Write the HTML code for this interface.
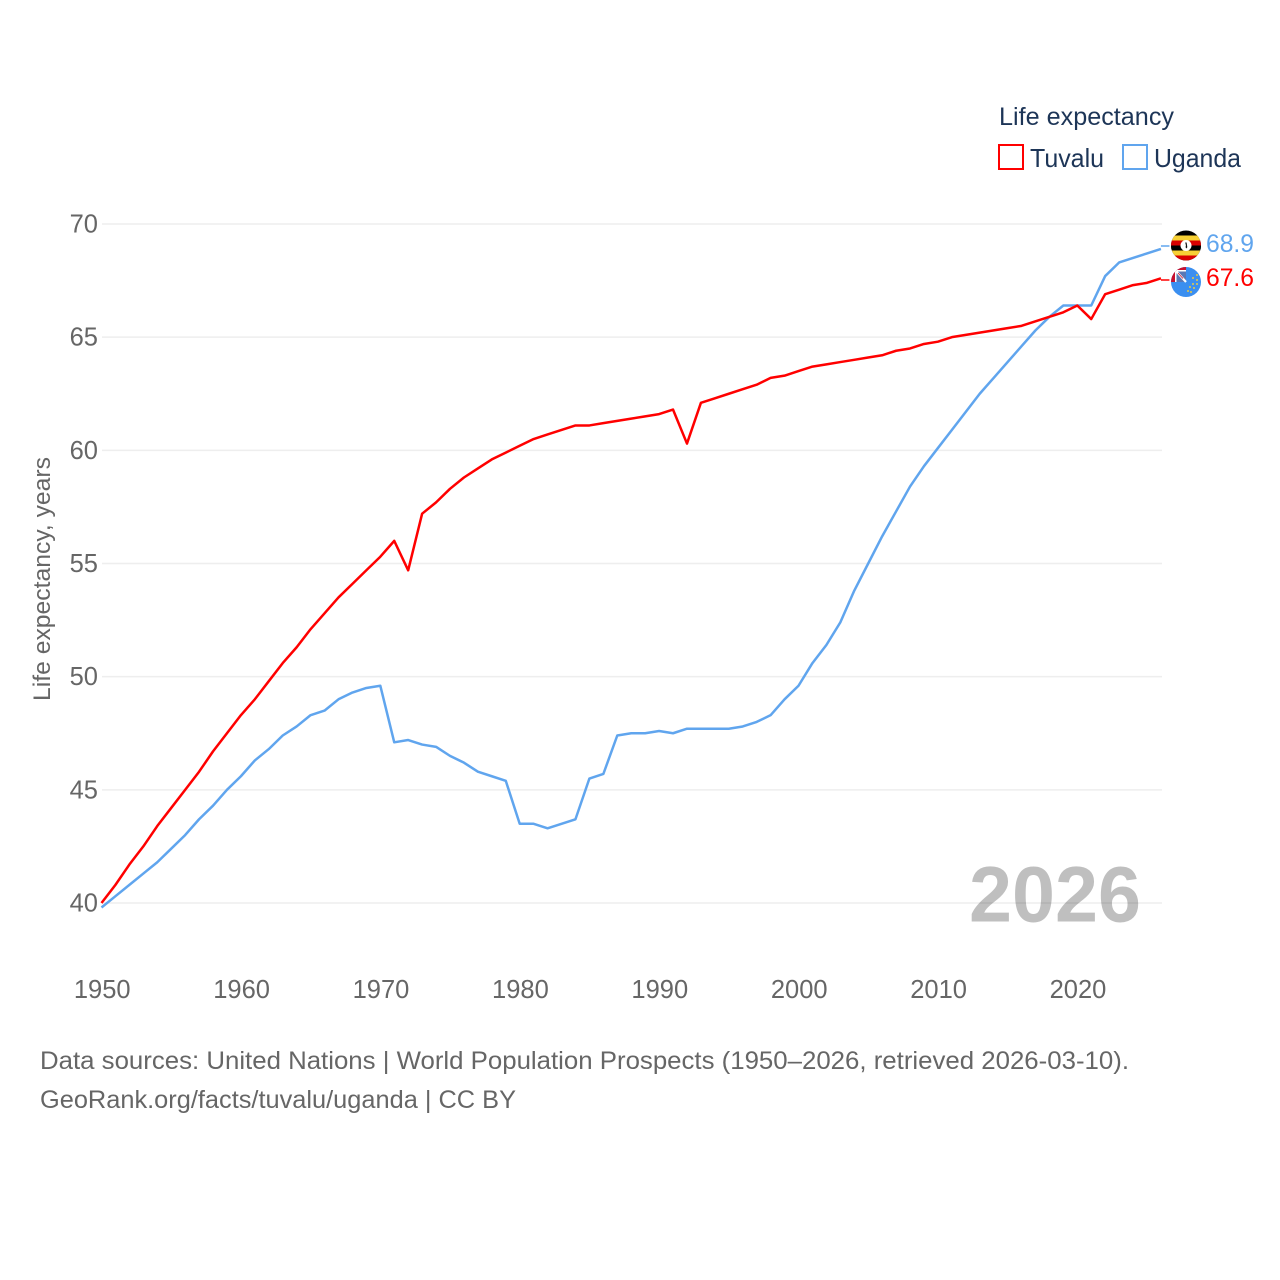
<!DOCTYPE html>
<html lang="en">
<head>
<meta charset="utf-8">
<title>Life expectancy: Tuvalu and Uganda</title>
<style>
html,body{margin:0;padding:0;background:#fff;width:1280px;height:1280px;overflow:hidden}
svg{display:block;font-family:"Liberation Sans",sans-serif}
</style>
</head>
<body>
<svg id="chart" xmlns="http://www.w3.org/2000/svg" width="1280" height="1280" viewBox="0 0 1280 1280">
  <rect width="1280" height="1280" fill="#fff"/>
  <g id="grid"></g>
  <g id="yTicks"></g>
  <g id="xTicks"></g>
  <text transform="translate(50,701) rotate(-90)" font-size="24" fill="#666" textLength="244" lengthAdjust="spacingAndGlyphs">Life expectancy, years</text>
  <text x="969" y="921.5" font-size="79" font-weight="700" fill="#000" fill-opacity="0.25" textLength="172" lengthAdjust="spacingAndGlyphs">2026</text>
  <g id="series"></g>

  <g>
    <text x="999" y="125" font-size="25" fill="#1d3557" textLength="175" lengthAdjust="spacingAndGlyphs">Life expectancy</text>
    <g>
      <rect x="999" y="145" width="24" height="24" fill="#fff" stroke="#ff0000" stroke-width="2"/>
      <text x="1030" y="167" font-size="26" fill="#1d3557" textLength="74" lengthAdjust="spacingAndGlyphs">Tuvalu</text>
    </g>
    <g>
      <rect x="1123" y="145" width="24" height="24" fill="#fff" stroke="#60a5ee" stroke-width="2"/>
      <text x="1154" y="167" font-size="26" fill="#1d3557" textLength="87" lengthAdjust="spacingAndGlyphs">Uganda</text>
    </g>
  </g>

  <defs>
    <clipPath id="ugClip"><circle cx="1186" cy="245.5" r="15"/></clipPath>
    <clipPath id="tvClip"><circle cx="1186" cy="282" r="15"/></clipPath>
  </defs>

  <g clip-path="url(#ugClip)">
    <rect x="1171" y="230" width="30" height="31" fill="#000"/>
    <rect x="1171" y="235.5" width="30" height="5" fill="#f7d035"/>
    <rect x="1171" y="240.5" width="30" height="5" fill="#d90000"/>
    <rect x="1171" y="245.5" width="30" height="5" fill="#000"/>
    <rect x="1171" y="250.5" width="30" height="5" fill="#f7d035"/>
    <rect x="1171" y="255.5" width="30" height="6" fill="#d90000"/>
    <circle cx="1186" cy="245.5" r="5.5" fill="#fff"/>
    <path d="M1185.2 242.5h1.4l.4 2.5.3 2.2-1 1.3-.7-1.3.3-2z" fill="#111"/>
  </g>

  <g clip-path="url(#tvClip)">
    <rect x="1171" y="267" width="30" height="30" fill="#3b8ff0"/>
    <rect x="1171" y="267" width="15" height="15" fill="#c8102e"/>
    <rect x="1175" y="270" width="11" height="12" fill="#fff"/>
    <rect x="1176.5" y="271.5" width="9.5" height="10.5" fill="#5a78b5"/>
    <path d="M1176.5 271.5l9.5 10.5" stroke="#fff" stroke-width="2.2"/>
    <path d="M1178 273l5 5.5" stroke="#c8102e" stroke-width="0.8"/>
    <g fill="#e5c94a">
      <circle cx="1197" cy="275" r="1"/><circle cx="1197" cy="280" r="1"/><circle cx="1193" cy="278" r="1"/>
      <circle cx="1197" cy="284" r="1"/><circle cx="1193" cy="284" r="1"/><circle cx="1190" cy="287" r="1"/>
      <circle cx="1194" cy="288" r="1"/><circle cx="1188" cy="291" r="1"/><circle cx="1191" cy="292" r="1"/>
    </g>
  </g>

  <g id="endLabels"></g>

  <g>
    <text x="40" y="1069" font-size="25" fill="#666" textLength="1089" lengthAdjust="spacingAndGlyphs">Data sources: United Nations | World Population Prospects (1950–2026, retrieved 2026-03-10).</text>
    <text x="40" y="1108" font-size="25" fill="#666" textLength="476" lengthAdjust="spacingAndGlyphs">GeoRank.org/facts/tuvalu/uganda | CC BY</text>
  </g>
</svg>

<script>
const startYear = 1950;
const tuvaluValues = [40.0,40.8,41.7,42.5,43.4,44.2,45.0,45.8,46.7,47.5,48.3,49.0,49.8,50.6,51.3,52.1,52.8,53.5,54.1,54.7,55.3,56.0,54.7,57.2,57.7,58.3,58.8,59.2,59.6,59.9,60.2,60.5,60.7,60.9,61.1,61.1,61.2,61.3,61.4,61.5,61.6,61.8,60.3,62.1,62.3,62.5,62.7,62.9,63.2,63.3,63.5,63.7,63.8,63.9,64.0,64.1,64.2,64.4,64.5,64.7,64.8,65.0,65.1,65.2,65.3,65.4,65.5,65.7,65.9,66.1,66.4,65.8,66.9,67.1,67.3,67.4,67.6];
const ugandaValues = [39.8,40.3,40.8,41.3,41.8,42.4,43.0,43.7,44.3,45.0,45.6,46.3,46.8,47.4,47.8,48.3,48.5,49.0,49.3,49.5,49.6,47.1,47.2,47.0,46.9,46.5,46.2,45.8,45.6,45.4,43.5,43.5,43.3,43.5,43.7,45.5,45.7,47.4,47.5,47.5,47.6,47.5,47.7,47.7,47.7,47.7,47.8,48.0,48.3,49.0,49.6,50.6,51.4,52.4,53.8,55.0,56.2,57.3,58.4,59.3,60.1,60.9,61.7,62.5,63.2,63.9,64.6,65.3,65.9,66.4,66.4,66.4,67.7,68.3,68.5,68.7,68.9];
const yTickValues = [40,45,50,55,60,65,70];
const xTickValues = [1950,1960,1970,1980,1990,2000,2010,2020];

const NS = 'http://www.w3.org/2000/svg';
const xScale = function (year) { return 101.5 + (year - 1950) * 13.94; };
const yScale = function (v) { return 903 - (v - 40) * (679 / 30); };

function make(tag, parent) {
  const el = document.createElementNS(NS, tag);
  parent.appendChild(el);
  return el;
}

const gridGroup = document.getElementById('grid');
const yGroup = document.getElementById('yTicks');
const xGroup = document.getElementById('xTicks');
const seriesGroup = document.getElementById('series');
const endGroup = document.getElementById('endLabels');

yTickValues.forEach(function (v) {
  const line = make('line', gridGroup);
  
  
  line.setAttribute('x1', 102);
  line.setAttribute('x2', 1162);
  line.setAttribute('y1', yScale(v));
  line.setAttribute('y2', yScale(v));
  line.setAttribute('stroke', '#eeeeee');
  line.setAttribute('stroke-width', 1.5);

  const label = make('text', yGroup);
  
  
  label.setAttribute('x', 98);
  label.setAttribute('y', yScale(v) + 8.5);
  label.setAttribute('text-anchor', 'end');
  label.setAttribute('font-size', 25.5);
  label.setAttribute('fill', '#666');
  label.textContent = v;
});

xTickValues.forEach(function (year) {
  const label = make('text', xGroup);
  
  
  label.setAttribute('x', xScale(year) + 0.7);
  label.setAttribute('y', 998);
  label.setAttribute('text-anchor', 'middle');
  label.setAttribute('font-size', 25.5);
  label.setAttribute('fill', '#666');
  label.textContent = year;
});

function drawSeries(values, color, connectorY, lineName, connectorName, labelName, labelY) {
  const pts = values.map(function (v, i) {
    return xScale(startYear + i).toFixed(2) + ',' + yScale(v).toFixed(2);
  }).join(' ');
  const poly = make('polyline', seriesGroup);
  
  
  poly.setAttribute('points', pts);
  poly.setAttribute('fill', 'none');
  poly.setAttribute('stroke', color);
  poly.setAttribute('stroke-width', 2.5);
  poly.setAttribute('stroke-linejoin', 'round');

  const last = values[values.length - 1];
  const endX = xScale(startYear + values.length - 1);
  const conn = make('line', seriesGroup);
  
  
  conn.setAttribute('x1', endX);
  conn.setAttribute('x2', endX + 8.5);
  conn.setAttribute('y1', connectorY);
  conn.setAttribute('y2', connectorY);
  conn.setAttribute('stroke', color);
  conn.setAttribute('stroke-width', 1.5);

  const text = make('text', endGroup);
  
  
  text.setAttribute('x', 1206);
  text.setAttribute('y', labelY);
  text.setAttribute('font-size', 25);
  text.setAttribute('fill', color);
  text.setAttribute('textLength', 48);
  text.setAttribute('lengthAdjust', 'spacingAndGlyphs');
  text.textContent = last.toFixed(1);
}

drawSeries(ugandaValues, '#60a5ee', 246, 'uganda-line', 'uganda-connector', 'uganda-end-value', 252);
drawSeries(tuvaluValues, '#ff0000', 280, 'tuvalu-line', 'tuvalu-connector', 'tuvalu-end-value', 286);
</script>
</body>
</html>
